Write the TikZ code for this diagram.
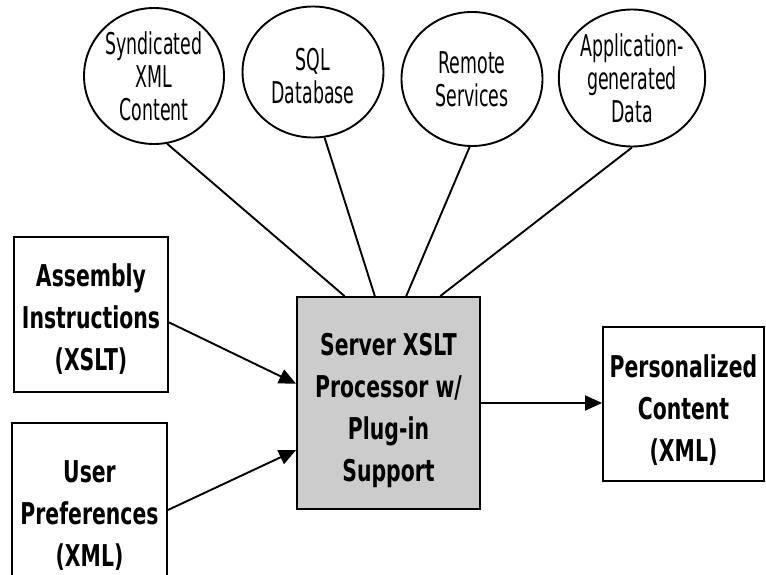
\documentclass[tikz,border=0pt]{standalone}
\usepackage{fontspec}
\setmainfont{DejaVu Sans}
\newfontfamily\srcfont[FakeStretch=0.58]{DejaVu Sans}
\newfontfamily\boxfont[FakeStretch=0.68]{DejaVu Sans Bold}
\usetikzlibrary{shapes.geometric,arrows.meta,calc}
\definecolor{procgray}{RGB}{204,204,204}
% invisible strut that lowers a block of lines inside its box
\newcommand\dropby[1]{\rule{0pt}{#1}}
\tikzset{
  src/.style={ellipse, draw, line width=1.9pt, inner sep=0pt, align=center,
    font=\srcfont\fontsize{30}{33}\selectfont},
  block/.style={rectangle, draw, line width=1.9pt, inner sep=0pt, align=center,
    font=\boxfont\fontsize{30}{42}\selectfont},
  link/.style={line width=1.9pt},
  flow/.style={line width=1.9pt, -{Triangle[length=17pt,width=15pt]}},
}
\begin{document}
\begin{tikzpicture}[x=1pt,y=-1pt]
\useasboundingbox (0,0) rectangle (766,575);

% data sources
\node[src, minimum width=140pt, minimum height=136pt] (syn) at (154,76) {Syndicated\\XML\\Content};
\node[src, minimum width=141pt, minimum height=131pt] (sql) at (313,72) {\dropby{30pt}SQL\\Database};
\node[src, minimum width=141pt, minimum height=134pt] (rem) at (472,79) {Remote\\Services};
\node[src, minimum width=142pt, minimum height=137pt] (app) at (632,78) {Application-\\generated\\Data};

% processor and its inputs / output
\node[block, fill=procgray, minimum width=183pt, minimum height=212pt] (proc) at (388.5,403)
  {\dropby{38pt}Server XSLT\\Processor w/\\Plug-in\\Support};
\node[block, minimum width=154pt, minimum height=155pt] (asm) at (91,314.5)
  {\dropby{32pt}Assembly\\Instructions\\(XSLT)};
\node[block, minimum width=155pt, minimum height=174pt] (usr) at (89.5,510)
  {\dropby{32pt}User\\Preferences\\(XML)};
\node[block, minimum width=161pt, minimum height=154pt] (out) at (683.5,404)
  {\dropby{35pt}Personalized\\Content\\(XML)};

% source links
\draw[link] (syn.-79) -- ($(proc.north west)!0.262!(proc.north east)$);
\draw[link] (sql.-80) -- ($(proc.north west)!0.426!(proc.north east)$);
\draw[link] (rem.-92) -- ($(proc.north west)!0.596!(proc.north east)$);
\draw[link] (app.-90) -- ($(proc.north west)!0.78!(proc.north east)$);

% arrows
\draw[flow] ($(asm.north east)!0.55!(asm.south east)$) -- ($(proc.north west)!0.41!(proc.south west)$);
\draw[flow] (usr.east) -- ($(proc.north west)!0.72!(proc.south west)$);
\draw[flow] (proc.east) -- (proc.east -| out.west);
\end{tikzpicture}
\end{document}
